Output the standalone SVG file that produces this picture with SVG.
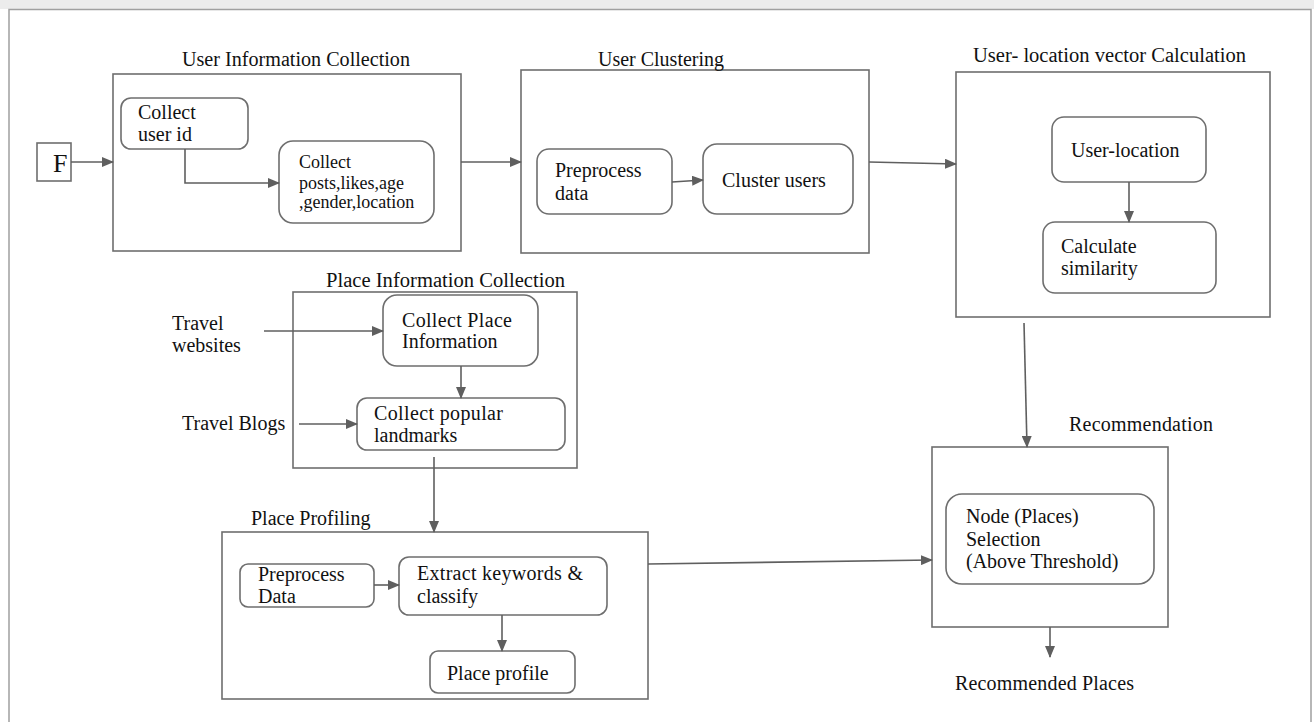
<svg xmlns="http://www.w3.org/2000/svg" width="1314" height="722" viewBox="0 0 1314 722">
<defs>
<style>
.frame{fill:none;stroke:#6e6e6e;stroke-width:1.6}
.box{fill:#fff;stroke:#6e6e6e;stroke-width:1.6}
.c{fill:none;stroke:#5f5f5f;stroke-width:1.6}
text{font-family:"Liberation Serif","Times New Roman",serif;font-size:20px;fill:#111}
.s18{font-size:18px}
</style>
<marker id="ah" markerWidth="12" markerHeight="10" refX="11" refY="5" orient="auto" markerUnits="userSpaceOnUse">
<path d="M0,0 L12,5 L0,10 Z" fill="#5f5f5f"/>
</marker>
</defs>
<rect x="0" y="0" width="1314" height="722" fill="#fff"/>
<rect x="0" y="0" width="1314" height="9" fill="#ececec"/>
<path d="M9,722 V9.5 H1311 V722" fill="none" stroke="#a0a0a0" stroke-width="1.5"/>

<g id="F"><rect class="box" x="37" y="143" width="34" height="38"/><text x="53" y="172" style="font-size:26px">F</text></g>

<g id="userInfo">
<rect class="frame" x="113" y="74" width="348" height="177"/>
<text x="182" y="66" textLength="228" lengthAdjust="spacingAndGlyphs">User Information Collection</text>
</g>
<g id="collectUserId"><rect class="box" x="121" y="98" width="127" height="51" rx="10"/><text x="138" y="119">Collect</text><text x="138" y="141">user id</text></g>
<g id="collectPosts"><rect class="box" x="279" y="141" width="155" height="82" rx="14"/><text class="s18" x="299" y="168">Collect</text><text class="s18" x="299" y="189">posts,likes,age</text><text class="s18" x="299" y="208">,gender,location</text></g>

<g id="userClustering">
<rect class="frame" x="521" y="70" width="348" height="183"/>
<text x="598" y="66" textLength="126" lengthAdjust="spacingAndGlyphs">User Clustering</text>
</g>
<g id="preprocessData"><rect class="box" x="537" y="149" width="135" height="65" rx="12"/><text x="555" y="177">Preprocess</text><text x="555" y="200">data</text></g>
<g id="clusterUsers"><rect class="box" x="703" y="144" width="150" height="70" rx="14"/><text x="722" y="187">Cluster users</text></g>

<g id="userLocationVector">
<rect class="frame" x="956" y="72" width="314" height="245"/>
<text x="973" y="62" textLength="273" lengthAdjust="spacingAndGlyphs">User- location vector Calculation</text>
</g>
<g id="userLocation"><rect class="box" x="1052" y="117" width="154" height="65" rx="12"/><text x="1071" y="157">User-location</text></g>
<g id="calcSimilarity"><rect class="box" x="1043" y="222" width="173" height="71" rx="12"/><text x="1061" y="253">Calculate</text><text x="1061" y="275">similarity</text></g>

<g id="placeInfo">
<rect class="frame" x="293" y="292" width="284" height="176"/>
<text x="326" y="287" textLength="239" lengthAdjust="spacingAndGlyphs">Place Information Collection</text>
</g>
<g id="travelWebsites"><text x="172" y="330">Travel</text><text x="172" y="352">websites</text></g>
<g id="travelBlogs"><text x="182" y="430">Travel Blogs</text></g>
<g id="collectPlaceInfo"><rect class="box" x="383" y="295" width="155" height="71" rx="14"/><text x="402" y="327" textLength="110" lengthAdjust="spacing">Collect Place</text><text x="402" y="348">Information</text></g>
<g id="collectLandmarks"><rect class="box" x="357" y="398" width="208" height="52" rx="10"/><text x="374" y="420" textLength="129" lengthAdjust="spacing">Collect popular</text><text x="374" y="442">landmarks</text></g>

<g id="placeProfiling">
<rect class="frame" x="222" y="532" width="426" height="167"/>
<text x="251" y="525">Place Profiling</text>
</g>
<g id="preprocessData2"><rect class="box" x="240" y="564" width="134" height="43" rx="8"/><text x="258" y="581">Preprocess</text><text x="258" y="603">Data</text></g>
<g id="extractKeywords"><rect class="box" x="399" y="557" width="208" height="58" rx="10"/><text x="417" y="580" textLength="166" lengthAdjust="spacing">Extract keywords &amp;</text><text x="417" y="603">classify</text></g>
<g id="placeProfile"><rect class="box" x="430" y="651" width="145" height="42" rx="8"/><text x="447" y="680">Place profile</text></g>

<g id="recommendation">
<rect class="frame" x="932" y="447" width="236" height="180"/>
<text x="1069" y="431" textLength="144" lengthAdjust="spacing">Recommendation</text>
</g>
<g id="nodeSelection"><rect class="box" x="946" y="494" width="208" height="90" rx="16"/><text x="966" y="523">Node (Places)</text><text x="966" y="546">Selection</text><text x="966" y="568">(Above Threshold)</text></g>
<g id="recommendedPlaces"><text x="955" y="690" textLength="179" lengthAdjust="spacing">Recommended Places</text></g>

<g id="connectors">
<path class="c" d="M71,162 H113" marker-end="url(#ah)"/>
<path class="c" d="M185,149 V183 H279" marker-end="url(#ah)"/>
<path class="c" d="M461,162 H521" marker-end="url(#ah)"/>
<path class="c" d="M672,182 L703,180" marker-end="url(#ah)"/>
<path class="c" d="M869,162 L956,164" marker-end="url(#ah)"/>
<path class="c" d="M1129,182 V222" marker-end="url(#ah)"/>
<path class="c" d="M1024,323 L1027,447" marker-end="url(#ah)"/>
<path class="c" d="M264,331 H383" marker-end="url(#ah)"/>
<path class="c" d="M461,366 V398" marker-end="url(#ah)"/>
<path class="c" d="M299,424 H357" marker-end="url(#ah)"/>
<path class="c" d="M434,457 V532" marker-end="url(#ah)"/>
<path class="c" d="M374,585 H399" marker-end="url(#ah)"/>
<path class="c" d="M502,615 V651" marker-end="url(#ah)"/>
<path class="c" d="M648,564 L932,560" marker-end="url(#ah)"/>
<path class="c" d="M1050,627 V657" marker-end="url(#ah)"/>
</g>
</svg>
